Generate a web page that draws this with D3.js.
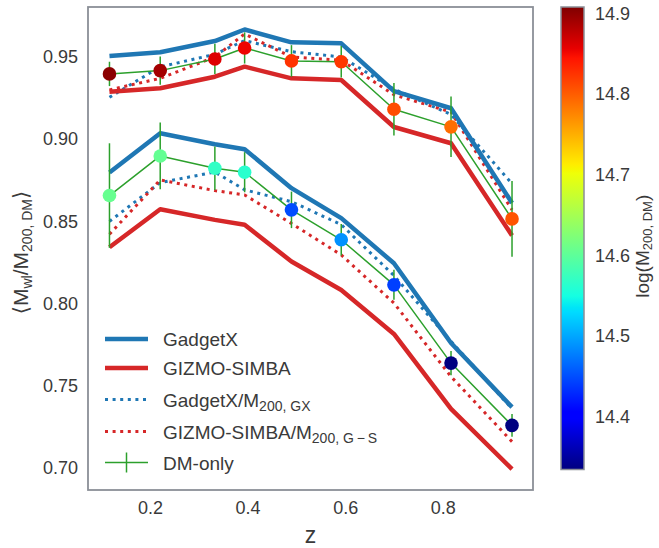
<!DOCTYPE html>
<html>
<head>
<meta charset="utf-8">
<script src="https://cdn.jsdelivr.net/npm/d3@7"></script>
<style>
  html, body { margin: 0; padding: 0; background: #fff; }
  svg { display: block; }
  text { font-family: "Liberation Sans", Arial, "DejaVu Sans", sans-serif; }
</style>
</head>
<body>
<svg id="chart" width="659" height="548"></svg>
<script>
// ---------------- data ----------------
const redshift = [0.117, 0.221, 0.333, 0.394, 0.490, 0.592, 0.700, 0.817, 0.942];

// high-mass group
const gadgetXHi   = [0.9506, 0.9529, 0.9597, 0.9667, 0.9589, 0.9583, 0.9292, 0.9188, 0.8612];
const gizmoHi     = [0.9289, 0.9310, 0.9380, 0.9441, 0.9370, 0.9360, 0.9074, 0.8975, 0.8414];
const gadgetXOwnHi = [0.9255, 0.9440, 0.9516, 0.9600, 0.9532, 0.9500, 0.9305, 0.9150, 0.8730];
const gizmoOwnHi   = [0.9300, 0.9370, 0.9500, 0.9640, 0.9500, 0.9480, 0.9270, 0.9165, 0.8570];
const dmOnlyHi    = [0.9397, 0.9417, 0.9488, 0.9555, 0.9476, 0.9471, 0.9182, 0.9075, 0.8515];
const dmErrHi     = [0.0074, 0.0086, 0.0092, 0.0095, 0.0096, 0.0096, 0.0160, 0.0184, 0.0230];
const logMassHi   = [14.902, 14.890, 14.861, 14.853, 14.825, 14.823, 14.810, 14.790, 14.805];

// low-mass group
const gadgetXLo   = [0.8797, 0.9036, 0.8969, 0.8939, 0.8702, 0.8520, 0.8245, 0.7760, 0.7370];
const gizmoLo     = [0.8343, 0.8574, 0.8509, 0.8479, 0.8256, 0.8083, 0.7815, 0.7360, 0.6993];
const gadgetXOwnLo = [0.8500, 0.8736, 0.8800, 0.8692, 0.8620, 0.8480, 0.8170, 0.7770, 0.7360];
const gizmoOwnLo   = [0.8422, 0.8752, 0.8687, 0.8661, 0.8487, 0.8296, 0.8003, 0.7556, 0.7160];
const dmOnlyLo    = [0.8657, 0.8898, 0.8823, 0.8799, 0.8570, 0.8388, 0.8114, 0.7638, 0.7259];
const dmErrLo     = [0.0318, 0.0203, 0.0132, 0.0122, 0.0111, 0.0096, 0.0091, 0.0074, 0.0069];
const logMassLo   = [14.607, 14.605, 14.570, 14.564, 14.449, 14.488, 14.442, 14.335, 14.335];

const xTicks = [0.2, 0.4, 0.6, 0.8];
const yTicks = [0.70, 0.75, 0.80, 0.85, 0.90, 0.95];
const cTicks = [14.4, 14.5, 14.6, 14.7, 14.8, 14.9];
const xDomain = [0.073, 0.985];
const yDomain = [0.6866, 0.9804];
const cDomain = [14.3348, 14.9078];

// ---------------- layout ----------------
const svg = d3.select("#chart");
const P = { left: 88, right: 533, top: 7, bottom: 490 };
const CB = { left: 561, right: 584, top: 7, bottom: 469.5 };
const C = { blue: "#1f77b4", red: "#d62728", green: "#2ca02c", spine: "#8b8f97", text: "#3a3a3a" };

const x = d3.scaleLinear().domain(xDomain).range([P.left, P.right]);
const y = d3.scaleLinear().domain(yDomain).range([P.bottom, P.top]);
const cy = d3.scaleLinear().domain(cDomain).range([CB.bottom, CB.top]);

// matplotlib jet
const jetR = d3.scaleLinear().domain([0, 0.35, 0.66, 0.89, 1]).range([0, 0, 1, 1, 0.5]).clamp(true);
const jetG = d3.scaleLinear().domain([0, 0.125, 0.375, 0.64, 0.91, 1]).range([0, 0, 1, 1, 0, 0]).clamp(true);
const jetB = d3.scaleLinear().domain([0, 0.11, 0.34, 0.65, 1]).range([0.5, 1, 1, 0, 0]).clamp(true);
const jet = t => d3.rgb(jetR(t) * 255, jetG(t) * 255, jetB(t) * 255).formatHex();
const cNorm = d3.scaleLinear().domain(cDomain).range([0, 1]).clamp(true);

// clip
svg.append("defs").append("clipPath").attr("id", "clip")
  .append("rect").attr("x", P.left).attr("y", P.top)
  .attr("width", P.right - P.left).attr("height", P.bottom - P.top);

const plot = svg.append("g").attr("clip-path", "url(#clip)");
const line = d3.line().x((d, i) => x(redshift[i])).y(d => y(d));

function drawLine(vals, color, width, dash) {
  const p = plot.append("path").datum(vals)
    .attr("d", line).attr("fill", "none")
    .attr("stroke", color).attr("stroke-width", width)
    .attr("stroke-linejoin", "round");
  if (dash) p.attr("stroke-dasharray", dash);
  else p.attr("stroke-linecap", "butt");
}

[[gadgetXOwnHi, C.blue], [gizmoOwnHi, C.red], [gadgetXOwnLo, C.blue], [gizmoOwnLo, C.red]]
  .forEach(([v, c]) => drawLine(v, c, 3, "3,4.6"));
[[gadgetXHi, C.blue], [gizmoHi, C.red], [gadgetXLo, C.blue], [gizmoLo, C.red]]
  .forEach(([v, c]) => drawLine(v, c, 4.5, null));

function drawDM(vals, errs) {
  drawLine(vals, C.green, 1.5, null);
  plot.append("g").selectAll("line").data(vals).join("line")
    .attr("x1", (d, i) => x(redshift[i])).attr("x2", (d, i) => x(redshift[i]))
    .attr("y1", (d, i) => y(d - errs[i])).attr("y2", (d, i) => y(d + errs[i]))
    .attr("stroke", C.green).attr("stroke-width", 1.5);
}
drawDM(dmOnlyHi, dmErrHi);
drawDM(dmOnlyLo, dmErrLo);

function drawDots(vals, mass) {
  plot.append("g").selectAll("circle").data(vals).join("circle")
    .attr("cx", (d, i) => x(redshift[i])).attr("cy", d => y(d))
    .attr("r", 6.8).attr("fill", (d, i) => jet(cNorm(mass[i])));
}
drawDots(dmOnlyHi, logMassHi);
drawDots(dmOnlyLo, logMassLo);

// frame
svg.append("rect").attr("x", P.left).attr("y", P.top)
  .attr("width", P.right - P.left).attr("height", P.bottom - P.top)
  .attr("fill", "none").attr("stroke", C.spine).attr("stroke-width", 1.8);

// axes (no tick marks, labels only)
const xAxis = svg.append("g").attr("transform", `translate(0,${P.bottom})`)
  .call(d3.axisBottom(x).tickValues(xTicks).tickSize(0).tickPadding(11).tickFormat(d3.format(".1f")));
const yAxis = svg.append("g").attr("transform", `translate(${P.left},0)`)
  .call(d3.axisLeft(y).tickValues(yTicks).tickSize(0).tickPadding(10).tickFormat(d3.format(".2f")));
[xAxis, yAxis].forEach(a => {
  a.select(".domain").remove();
  a.selectAll("text").attr("font-size", 18).attr("fill", C.text)
    .attr("font-family", "'Liberation Sans', Arial, sans-serif");
});

// axis titles
svg.append("text").attr("x", (P.left + P.right) / 2).attr("y", 543)
  .attr("text-anchor", "middle").attr("font-size", 23).attr("fill", C.text).text("z");

const yl = svg.append("text").attr("transform", `translate(28,${(P.top + P.bottom) / 2 + 4}) rotate(-90)`)
  .attr("text-anchor", "middle").attr("font-size", 21).attr("fill", C.text);
yl.append("tspan").text("\u27E8M");
yl.append("tspan").attr("font-size", 14).attr("dy", 4).text("wl");
yl.append("tspan").attr("dy", -4).text("/M");
yl.append("tspan").attr("font-size", 14).attr("dy", 4).text("200, DM");
yl.append("tspan").attr("dy", -4).text("\u27E9");

// legend
const legend = [
  { y: 339, color: C.blue, dash: null, w: 4.5, main: "GadgetX", sub: null },
  { y: 368, color: C.red, dash: null, w: 4.5, main: "GIZMO-SIMBA", sub: null },
  { y: 399.5, color: C.blue, dash: "3,4.6", w: 3, main: "GadgetX/M", sub: "200, GX" },
  { y: 431.5, color: C.red, dash: "3,4.6", w: 3, main: "GIZMO-SIMBA/M", sub: "200, G\u2009\u2212\u2009S" },
  { y: 462.5, color: C.green, dash: null, w: 1.5, main: "DM-only", sub: null, err: true }
];
const lg = svg.append("g");
legend.forEach(e => {
  const l = lg.append("line").attr("x1", 105).attr("x2", 148).attr("y1", e.y).attr("y2", e.y)
    .attr("stroke", e.color).attr("stroke-width", e.w);
  if (e.dash) l.attr("stroke-dasharray", e.dash);
  if (e.err) lg.append("line").attr("x1", 126.5).attr("x2", 126.5).attr("y1", e.y - 10).attr("y2", e.y + 10)
    .attr("stroke", e.color).attr("stroke-width", 1.5);
  const t = lg.append("text").attr("x", 163).attr("y", e.y + 7).attr("font-size", 19).attr("fill", C.text);
  t.append("tspan").text(e.main);
  if (e.sub) t.append("tspan").attr("font-size", 14).attr("dy", 4).text(e.sub);
});

// colorbar
const grad = svg.select("defs").append("linearGradient").attr("id", "jetgrad")
  .attr("x1", 0).attr("y1", 1).attr("x2", 0).attr("y2", 0);
[0, 0.11, 0.125, 0.34, 0.35, 0.375, 0.64, 0.65, 0.66, 0.89, 0.91, 1].forEach(t =>
  grad.append("stop").attr("offset", t).attr("stop-color", jet(t)));
svg.append("rect").attr("x", CB.left).attr("y", CB.top)
  .attr("width", CB.right - CB.left).attr("height", CB.bottom - CB.top)
  .attr("fill", "url(#jetgrad)").attr("stroke", C.spine).attr("stroke-width", 1.5);

const cAxis = svg.append("g").attr("transform", `translate(${CB.right},0)`)
  .call(d3.axisRight(cy).tickValues(cTicks).tickSize(0).tickPadding(11).tickFormat(d3.format(".1f")));
cAxis.select(".domain").remove();
cAxis.selectAll("text").attr("font-size", 18).attr("fill", C.text)
  .attr("font-family", "'Liberation Sans', Arial, sans-serif");

const cl = svg.append("text").attr("transform", `translate(649,${(CB.top + CB.bottom) / 2 + 8}) rotate(-90)`)
  .attr("text-anchor", "middle").attr("font-size", 19).attr("fill", C.text);
cl.append("tspan").text("log(M");
cl.append("tspan").attr("font-size", 13).attr("dy", 3).text("200, DM");
cl.append("tspan").attr("dy", -3).text(")");
</script>
</body>
</html>
